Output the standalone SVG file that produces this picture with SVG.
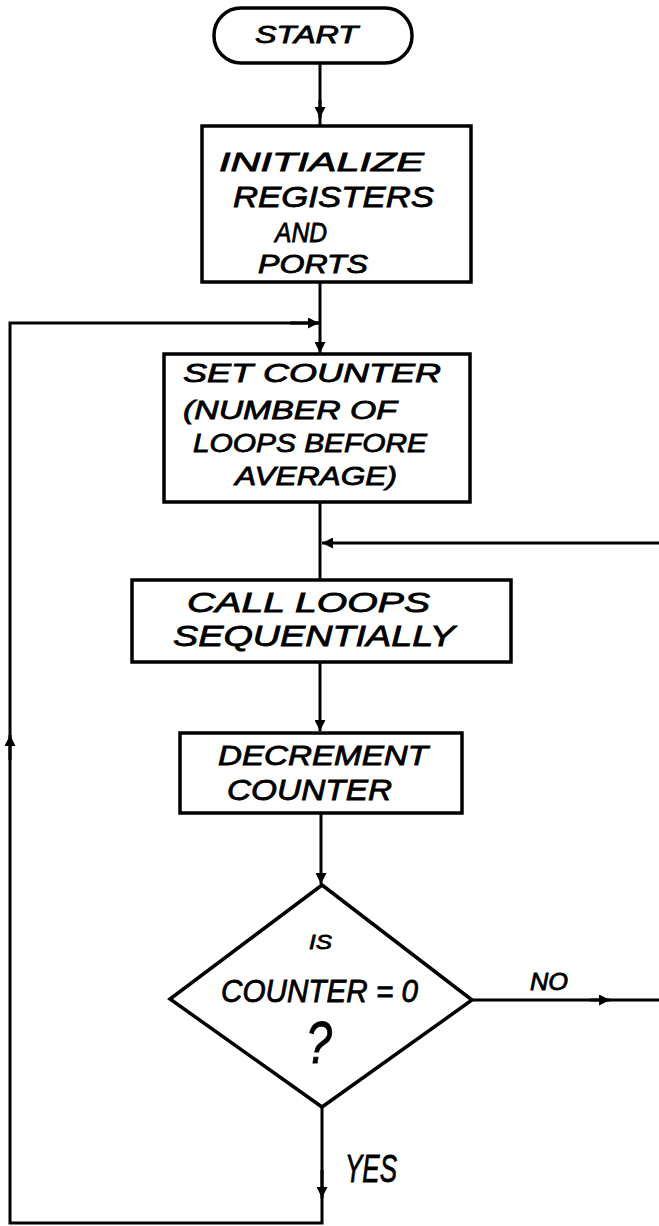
<svg xmlns="http://www.w3.org/2000/svg" width="659" height="1226" viewBox="0 0 659 1226">
  <style>
    .shape { fill: none; stroke: #000; stroke-width: 3.5; stroke-linejoin: miter; }
    .conn { fill: none; stroke: #000; stroke-width: 3; }
    .lbl { font-family: "Liberation Sans", Arial, sans-serif; font-style: italic; fill: #000; stroke: #000; stroke-width: 0.8; }
  </style>
  <defs>
    <marker id="arr" viewBox="0 0 10 10" refX="10" refY="5" markerWidth="14" markerHeight="11" markerUnits="userSpaceOnUse" orient="auto">
      <path d="M0,0 L10,5 L0,10 Z" fill="#000"/>
    </marker>
  </defs>
  <rect width="659" height="1226" fill="#fff"/>

  <g id="connectors">
    <line class="conn" x1="320" y1="63" x2="320" y2="125" />
    <line class="conn" x1="320" y1="100" x2="320" y2="118" marker-end="url(#arr)"/>
    <line class="conn" x1="320" y1="282" x2="320" y2="353" marker-end="url(#arr)"/>
    <polyline class="conn" points="322,1107 322,1223 10,1223 10,323 320,323"/>
    <line class="conn" x1="290" y1="323" x2="319" y2="323" marker-end="url(#arr)"/>
    <line class="conn" x1="10" y1="760" x2="10" y2="735" marker-end="url(#arr)"/>
    <line class="conn" x1="322" y1="1170" x2="322" y2="1198" marker-end="url(#arr)"/>
    <line class="conn" x1="320" y1="502" x2="320" y2="580"/>
    <line class="conn" x1="659" y1="543" x2="322" y2="543" marker-end="url(#arr)"/>
    <line class="conn" x1="320" y1="662" x2="320" y2="731" marker-end="url(#arr)"/>
    <line class="conn" x1="321" y1="813" x2="321" y2="884" marker-end="url(#arr)"/>
    <line class="conn" x1="472" y1="1000" x2="659" y2="1000"/>
    <line class="conn" x1="590" y1="1000" x2="610" y2="1000" marker-end="url(#arr)"/>
    <text class="lbl" x="530" y="990" font-size="24" textLength="38" lengthAdjust="spacingAndGlyphs">NO</text>
    <text class="lbl" x="345" y="1182" font-size="38" textLength="52" lengthAdjust="spacingAndGlyphs">YES</text>
  </g>

  <g id="start">
    <rect class="shape" x="214" y="8" width="198" height="55" rx="27" ry="27"/>
    <text class="lbl" x="255" y="43" font-size="23" textLength="103" lengthAdjust="spacingAndGlyphs">START</text>
  </g>

  <g id="init">
    <rect class="shape" x="202" y="126" width="269" height="156"/>
    <text class="lbl" x="219" y="171" font-size="26" textLength="205" lengthAdjust="spacingAndGlyphs">INITIALIZE</text>
    <text class="lbl" x="233" y="207" font-size="30" textLength="201" lengthAdjust="spacingAndGlyphs">REGISTERS</text>
    <text class="lbl" x="275" y="242" font-size="28" textLength="52" lengthAdjust="spacingAndGlyphs">AND</text>
    <text class="lbl" x="258" y="273" font-size="25" textLength="110" lengthAdjust="spacingAndGlyphs">PORTS</text>
  </g>

  <g id="setcounter">
    <rect class="shape" x="164" y="354" width="306" height="148"/>
    <text class="lbl" x="183" y="382" font-size="26" textLength="258" lengthAdjust="spacingAndGlyphs">SET COUNTER</text>
    <text class="lbl" x="183" y="419" font-size="26" textLength="214" lengthAdjust="spacingAndGlyphs">(NUMBER OF</text>
    <text class="lbl" x="193" y="452" font-size="26" textLength="234" lengthAdjust="spacingAndGlyphs">LOOPS BEFORE</text>
    <text class="lbl" x="235" y="485" font-size="26" textLength="162" lengthAdjust="spacingAndGlyphs">AVERAGE)</text>
  </g>

  <g id="callloops">
    <rect class="shape" x="132" y="580" width="379" height="82"/>
    <text class="lbl" x="187" y="612" font-size="27" textLength="243" lengthAdjust="spacingAndGlyphs">CALL LOOPS</text>
    <text class="lbl" x="173" y="646" font-size="30" textLength="282" lengthAdjust="spacingAndGlyphs">SEQUENTIALLY</text>
  </g>

  <g id="decrement">
    <rect class="shape" x="180" y="733" width="282" height="80"/>
    <text class="lbl" x="218" y="765" font-size="27" textLength="210" lengthAdjust="spacingAndGlyphs">DECREMENT</text>
    <text class="lbl" x="227" y="800" font-size="29" textLength="165" lengthAdjust="spacingAndGlyphs">COUNTER</text>
  </g>

  <g id="decision">
    <polygon class="shape" points="322,885 472,1000 322,1107 170,999"/>
    <text class="lbl" x="309" y="949" font-size="20" textLength="23" lengthAdjust="spacingAndGlyphs">IS</text>
    <text class="lbl" x="221" y="1002" font-size="32" textLength="197" lengthAdjust="spacingAndGlyphs">COUNTER = 0</text>
    <text class="lbl" x="306" y="1063" font-size="60" textLength="26" lengthAdjust="spacingAndGlyphs">?</text>
  </g>
</svg>
